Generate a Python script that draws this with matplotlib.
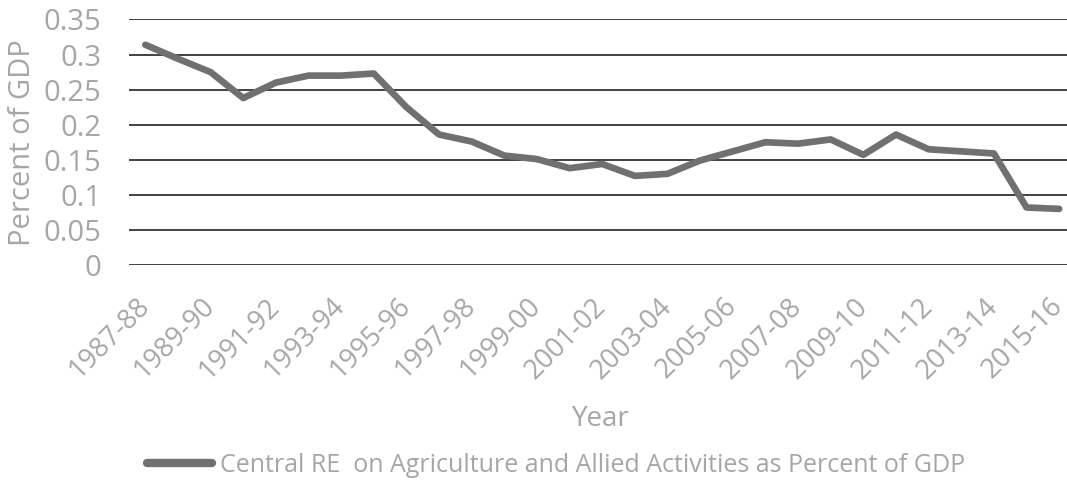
import matplotlib
matplotlib.use("Agg")
import matplotlib.pyplot as plt
from matplotlib.lines import Line2D

# Central revenue expenditure on agriculture & allied activities (% of GDP)
years = [
    "1987-88", "1988-89", "1989-90", "1990-91", "1991-92", "1992-93",
    "1993-94", "1994-95", "1995-96", "1996-97", "1997-98", "1998-99",
    "1999-00", "2000-01", "2001-02", "2002-03", "2003-04", "2004-05",
    "2005-06", "2006-07", "2007-08", "2008-09", "2009-10", "2010-11",
    "2011-12", "2012-13", "2013-14", "2014-15", "2015-16",
]
re_pct_gdp = [
    0.314, 0.294, 0.275, 0.238, 0.260, 0.270, 0.270, 0.273, 0.225, 0.186,
    0.176, 0.156, 0.151, 0.138, 0.144, 0.127, 0.130, 0.149, 0.162, 0.175,
    0.173, 0.179, 0.157, 0.186, 0.165, 0.162, 0.159, 0.082, 0.080,
]
y_ticks = [0, 0.05, 0.1, 0.15, 0.2, 0.25, 0.3, 0.35]
y_tick_labels = ["0", "0.05", "0.1", "0.15", "0.2", "0.25", "0.3", "0.35"]
series_label = "Central RE  on Agriculture and Allied Activities as Percent of GDP"

W, H = 1067, 494
text_gray = "#a6a6a6"
line_gray = "#707070"
plt.rcParams["font.family"] = ["Open Sans", "DejaVu Sans"]

fig = plt.figure(figsize=(W / 100, H / 100), dpi=100)
left, right, top, bottom = 129, 1067, 19.5, 265
ax = fig.add_axes([left / W, 1 - bottom / H, (right - left) / W, (bottom - top) / H])

x = list(range(len(years)))
ax.plot(x, re_pct_gdp, color=line_gray, lw=4.8, solid_capstyle="round",
        solid_joinstyle="round", zorder=3)

ax.set_xlim(-0.5, 28.24)
ax.set_ylim(0, 0.35)
ax.set_yticks(y_ticks)
ax.set_yticklabels(y_tick_labels)
ax.yaxis.grid(True, color="#333333", lw=1.3)
ax.set_axisbelow(True)
for s in ax.spines.values():
    s.set_visible(False)
ax.tick_params(axis="y", length=0, pad=20, labelsize=21, labelcolor=text_gray)

ax.set_xticks(x[::2])
ax.set_xticklabels(years[::2])
ax.tick_params(axis="x", length=0, pad=27, labelsize=19.5, labelcolor=text_gray)
for lbl in ax.get_xticklabels():
    lbl.set_rotation(45)
    lbl.set_rotation_mode("anchor")
    lbl.set_ha("right")
    lbl.set_va("center")

ax.set_ylabel("Percent of GDP", color=text_gray, fontsize=21)
ax.yaxis.label.set_va("center")
ax.yaxis.set_label_coords((23 - left) / (right - left), 0.5)
fig.text(601 / W, 1 - 419 / H, "Year", color=text_gray, fontsize=20,
         ha="center", va="center")

handle = Line2D([], [], color=line_gray, lw=6, solid_capstyle="round")
fig.legend([handle], [series_label], loc="center", bbox_to_anchor=(556 / W, 1 - 465 / H),
           frameon=False, fontsize=18, labelcolor=text_gray, handlelength=2.6,
           handletextpad=0.3)

fig.savefig("out.png", dpi=100)
